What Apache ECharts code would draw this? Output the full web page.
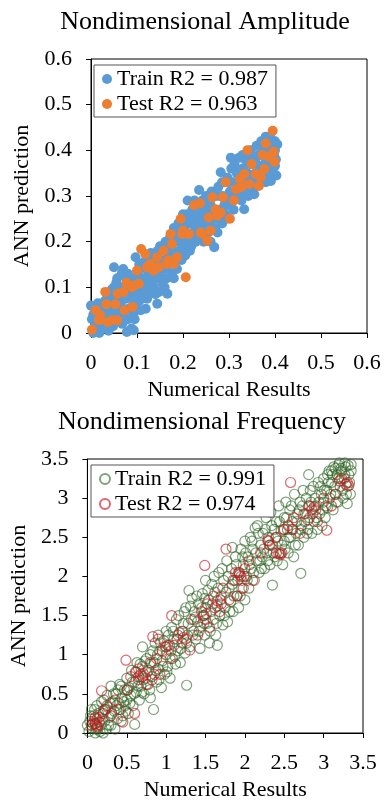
<!DOCTYPE html>
<html><head><meta charset="utf-8">
<script src="https://cdn.jsdelivr.net/npm/echarts@6/dist/echarts.min.js"></script>
<style>html,body{margin:0;padding:0;background:#fff}#c{width:384px;height:803px}</style>
</head><body><div id="c"></div>
<script>
const titles = ["Nondimensional Amplitude", "Nondimensional Frequency"];
const xName = "Numerical Results";
const yName = "ANN prediction";
const ampLegend = ["Train R2 = 0.987", "Test R2 = 0.963"];
const freqLegend = ["Train R2 = 0.991", "Test R2 = 0.974"];

const ampTrain = [
[0.0,0.06],[0.002,0.03],[0.005,0.0],[0.01,0.015],[0.012,0.045],[0.015,0.065],[0.018,0.0],[0.02,0.025],[0.022,0.055],[0.025,0.01],[0.028,0.04],[0.03,0.07],[0.032,0.02],[0.035,0.05],[0.038,0.005],[0.04,0.035],[0.042,0.08],[0.045,0.06],[0.048,0.015],[0.05,0.144],[0.05,0.1],[0.052,0.045],
[0.055,0.075],[0.057,0.12],[0.06,0.03],[0.062,0.09],[0.065,0.06],[0.067,0.13],[0.07,0.045],[0.072,0.1],[0.075,0.075],[0.078,0.002],[0.078,0.12],[0.08,0.03],[0.082,0.085],[0.085,0.055],[0.087,0.11],[0.088,0.01],[0.09,0.075],[0.092,0.04],[0.093,0.006],[0.095,0.1],[0.097,0.166],[0.098,0.065],
[0.1,0.09],[0.102,0.13],[0.105,0.07],[0.107,0.11],[0.11,0.15],[0.112,0.085],[0.115,0.12],[0.118,0.1],[0.119,0.053],[0.12,0.14],[0.122,0.075],[0.125,0.16],[0.127,0.11],[0.13,0.09],[0.132,0.13],[0.135,0.17],[0.137,0.1],[0.14,0.145],[0.142,0.12],[0.144,0.064],[0.145,0.18],[0.148,0.09],
[0.15,0.13],[0.152,0.16],[0.155,0.11],[0.157,0.19],[0.16,0.14],[0.162,0.2],[0.165,0.12],[0.166,0.086],[0.168,0.17],[0.17,0.15],[0.172,0.21],[0.175,0.13],[0.177,0.18],[0.18,0.23],[0.182,0.16],[0.185,0.2],[0.187,0.14],[0.19,0.24],[0.192,0.18],[0.195,0.21],[0.197,0.16],[0.2,0.26],
[0.2,0.19],[0.203,0.23],[0.205,0.17],[0.207,0.25],[0.21,0.29],[0.212,0.21],[0.215,0.24],[0.218,0.19],[0.22,0.27],[0.222,0.22],[0.225,0.25],[0.228,0.2],[0.23,0.28],[0.232,0.23],[0.235,0.313],[0.237,0.26],[0.24,0.21],[0.242,0.29],[0.245,0.24],[0.247,0.27],[0.25,0.22],[0.25,0.3],
[0.253,0.26],[0.255,0.29],[0.258,0.24],[0.26,0.2],[0.262,0.31],[0.265,0.27],[0.268,0.188],[0.27,0.23],[0.272,0.3],[0.275,0.25],[0.277,0.32],[0.28,0.27],[0.282,0.352],[0.285,0.24],[0.287,0.3],[0.29,0.33],[0.292,0.26],[0.295,0.29],[0.297,0.34],[0.3,0.28],
[0.302,0.31],[0.304,0.384],[0.305,0.36],[0.307,0.29],[0.31,0.33],[0.312,0.37],[0.315,0.3],[0.317,0.35],[0.32,0.32],[0.322,0.384],[0.325,0.34],[0.327,0.29],[0.33,0.36],[0.332,0.31],[0.333,0.271],[0.335,0.38],[0.337,0.33],[0.34,0.35],[0.342,0.3],[0.345,0.37],[0.347,0.4],[0.35,0.34],
[0.352,0.31],[0.355,0.304],[0.355,0.38],[0.357,0.35],[0.36,0.41],[0.362,0.33],[0.365,0.39],[0.367,0.36],[0.37,0.42],[0.372,0.34],[0.375,0.4],[0.377,0.37],[0.38,0.43],[0.382,0.35],[0.385,0.39],[0.387,0.41],[0.39,0.428],[0.39,0.36],[0.391,0.333],[0.393,0.38],[0.395,0.42],[0.397,0.35],[0.4,0.366],[0.4,0.4],[0.402,0.38],[0.405,0.413],[0.403,0.345],
[0.005,0.04],[0.008,0.055],[0.012,0.005],[0.02,0.06],[0.025,0.035],[0.03,0.045],[0.035,0.085],[0.04,0.015],[0.045,0.095],[0.05,0.03],[0.055,0.11],[0.06,0.065],[0.065,0.1],[0.068,0.02],[0.07,0.14],[0.075,0.05],[0.08,0.13],[0.085,0.09],[0.09,0.12],[0.095,0.03],[0.1,0.12],[0.105,0.15],[0.108,0.05],[0.11,0.1],[0.115,0.155],[0.12,0.09],[0.125,0.135],[0.13,0.175],[0.135,0.12],[0.14,0.085],[0.145,0.155],[0.15,0.19],[0.155,0.145],[0.16,0.1],[0.165,0.18],[0.17,0.2],[0.175,0.16],[0.18,0.12],[0.185,0.22],[0.19,0.16],[0.195,0.24],[0.2,0.22],[0.205,0.2],[0.21,0.26],[0.215,0.18],[0.22,0.24],[0.225,0.29],[0.23,0.21],[0.235,0.25],[0.24,0.28],[0.245,0.2],[0.25,0.26],[0.255,0.22],[0.26,0.28],[0.265,0.3],[0.27,0.26],[0.275,0.22],[0.28,0.3],[0.285,0.33],[0.29,0.28],[0.295,0.25],[0.3,0.33],[0.305,0.3],[0.31,0.27],[0.315,0.36],[0.32,0.35],[0.325,0.31],[0.33,0.39],[0.335,0.35],[0.34,0.32],[0.345,0.39],[0.35,0.37],[0.355,0.33],[0.36,0.37],[0.365,0.34],[0.37,0.39],[0.375,0.36],[0.38,0.33],[0.385,0.37],[0.39,0.4],[0.395,0.37],[0.4,0.42],[0.398,0.39],[0.392,0.345]
];
const ampTest = [
[0.002,0.007],[0.01,0.05],[0.017,0.028],[0.031,0.09],[0.033,0.063],[0.036,0.024],[0.053,0.063],[0.057,0.028],[0.058,0.086],[0.071,0.09],[0.073,0.05],[0.077,0.11],[0.09,0.057],[0.093,0.104],[0.1,0.137],[0.104,0.108],[0.109,0.184],[0.118,0.173],[0.129,0.151],[0.136,0.137],[0.144,0.166],[0.147,0.144],[0.158,0.18],[0.164,0.151],[0.173,0.217],[0.176,0.195],[0.18,0.151],[0.187,0.166],[0.195,0.25],[0.198,0.217],[0.2,0.224],[0.206,0.122],[0.213,0.217],[0.224,0.28],[0.237,0.284],[0.242,0.217],[0.253,0.202],[0.256,0.253],[0.26,0.224],[0.264,0.297],[0.271,0.271],[0.282,0.264],[0.287,0.297],[0.293,0.33],[0.302,0.25],[0.311,0.29],[0.315,0.315],[0.324,0.337],[0.333,0.348],[0.34,0.4],[0.344,0.326],[0.349,0.37],[0.358,0.348],[0.365,0.322],[0.373,0.39],[0.377,0.359],[0.38,0.415],[0.387,0.386],[0.395,0.443],[0.397,0.397],[0.399,0.375],[0.369,0.341],[0.326,0.319],[0.275,0.257],[0.238,0.22],[0.168,0.159],[0.122,0.144],[0.09,0.1],[0.046,0.028],[0.02,0.039]
];
const freqTrain = [
[0.02,0.02],[0.03,0.15],[0.05,0.3],[0.06,0.06],[0.08,0.22],[0.1,0.0],[0.1,0.12],[0.12,0.35],[0.13,0.05],[0.15,0.2],[0.17,0.1],[0.18,0.4],[0.2,0.0],[0.2,0.28],[0.22,0.15],[0.24,0.05],[0.25,0.48],[0.26,0.33],[0.28,0.2],[0.3,0.1],[0.3,0.6],[0.32,0.4],[0.34,0.28],[0.35,0.05],[0.36,0.5],[0.38,0.18],[0.4,0.38],[0.41,0.62],[0.42,0.3],[0.44,0.45],[0.45,0.22],[0.47,0.55],[0.48,0.35],[0.5,0.7],[0.5,0.42],
[0.52,0.25],[0.53,0.58],[0.55,0.48],[0.56,0.8],[0.58,0.35],[0.6,0.65],[0.6,0.11],[0.62,0.52],[0.63,0.9],[0.65,0.72],[0.66,0.42],[0.68,0.6],[0.7,0.85],[0.7,1.1],[0.72,0.5],[0.74,0.7],[0.75,0.95],[0.77,0.62],[0.78,0.8],[0.8,1.0],[0.8,0.45],[0.82,0.72],[0.84,0.3],[0.85,0.9],[0.86,1.15],[0.88,0.65],[0.9,0.82],[0.9,1.25],[0.92,1.05],[0.94,0.58],[0.95,0.92],[0.97,1.18],[0.98,0.75],[1.0,1.0],[1.0,1.3],
[1.02,0.85],[1.04,1.12],[1.05,0.7],[1.07,1.35],[1.08,0.95],[1.1,1.2],[1.12,0.88],[1.13,1.45],[1.15,1.05],[1.17,1.28],[1.18,0.9],[1.2,1.15],[1.22,1.4],[1.24,1.02],[1.25,1.6],[1.26,0.61],[1.27,1.25],[1.29,1.82],[1.3,1.1],[1.32,1.45],[1.33,1.72],[1.35,1.3],[1.36,1.55],[1.38,1.2],[1.4,1.42],[1.41,1.65],[1.43,1.08],[1.44,1.35],[1.46,1.78],[1.47,1.5],[1.49,1.25],[1.5,1.6],[1.5,1.95],
[1.52,1.4],[1.54,1.7],[1.55,1.15],[1.57,1.55],[1.58,1.9],[1.6,1.45],[1.62,1.8],[1.63,1.25],[1.65,1.12],[1.65,1.62],[1.67,2.05],[1.68,1.5],[1.7,1.75],[1.72,1.38],[1.73,1.95],[1.75,1.6],[1.77,2.2],[1.78,1.42],[1.8,1.85],[1.82,1.68],[1.83,2.1],[1.84,2.37],[1.85,1.55],[1.87,1.95],[1.88,2.25],[1.9,1.75],[1.92,1.6],[1.93,2.05],[1.95,2.35],[1.96,1.85],[1.98,2.15],[2.0,1.7],[2.0,2.45],
[2.02,2.0],[2.04,2.25],[2.05,1.85],[2.07,2.5],[2.08,2.1],[2.1,2.35],[2.12,1.95],[2.13,2.62],[2.15,2.2],[2.16,2.65],[2.18,2.05],[2.2,2.4],[2.22,2.25],[2.23,2.55],[2.25,2.1],[2.27,2.75],[2.28,2.3],[2.3,2.5],[2.32,2.15],[2.33,2.82],[2.35,1.89],[2.35,2.4],[2.37,2.6],[2.38,2.25],[2.4,2.7],[2.42,2.45],[2.43,2.9],[2.45,2.3],[2.46,2.58],[2.48,2.15],[2.5,2.75],[2.5,2.45],
[2.52,2.95],[2.54,2.6],[2.55,2.3],[2.57,2.85],[2.58,2.5],[2.6,2.7],[2.62,2.25],[2.63,3.05],[2.65,2.55],[2.67,2.8],[2.68,2.4],[2.7,2.95],[2.71,2.04],[2.72,2.65],[2.74,3.1],[2.75,2.5],[2.77,2.8],[2.78,3.0],[2.8,2.6],[2.81,3.3],[2.82,2.75],[2.84,2.95],[2.85,2.55],[2.87,3.15],[2.88,2.7],[2.9,2.9],[2.92,2.6],[2.93,3.2],[2.95,2.8],[2.97,3.05],[2.98,2.65],[3.0,2.95],[3.0,3.25],
[3.02,2.75],[3.04,3.1],[3.05,2.88],[3.07,3.35],[3.08,3.0],[3.1,3.2],[3.12,2.85],[3.13,3.4],[3.15,3.05],[3.17,3.3],[3.18,2.95],[3.2,3.45],[3.21,3.15],[3.23,3.35],[3.25,3.0],[3.26,3.25],[3.28,3.4],[3.3,2.93],[3.3,3.15],[3.32,3.3],[3.34,3.05],[3.35,3.43],
[0.0,0.1],[0.04,0.22],[0.07,0.12],[0.09,0.3],[0.11,0.05],[0.14,0.25],[0.16,0.02],[0.19,0.18],[0.21,0.42],[0.23,0.3],[0.27,0.1],[0.29,0.38],[0.31,0.25],[0.33,0.5],[0.37,0.35],[0.39,0.55],[0.43,0.15],[0.43,0.6],[0.46,0.4],[0.49,0.28],
[0.51,0.55],[0.54,0.38],[0.57,0.65],[0.59,0.5],[0.61,0.78],[0.64,0.6],[0.67,0.88],[0.69,0.52],[0.71,0.68],[0.73,0.92],[0.76,0.78],[0.79,0.55],[0.81,0.88],[0.83,1.05],[0.87,0.8],[0.89,1.0],[0.91,0.68],[0.93,1.15],[0.96,0.85],[0.99,1.1],
[1.01,0.78],[1.03,1.25],[1.06,1.05],[1.09,1.3],[1.11,0.98],[1.14,1.2],[1.16,1.5],[1.19,1.08],[1.21,1.3],[1.23,1.55],[1.26,1.15],[1.28,1.4],[1.31,1.62],[1.34,1.25],[1.37,1.48],[1.39,1.75],[1.42,1.3],[1.45,1.6],[1.48,1.4],[1.49,1.72],
[1.51,1.52],[1.53,1.82],[1.56,1.3],[1.59,1.65],[1.61,2.0],[1.64,1.4],[1.66,1.85],[1.69,1.7],[1.71,2.1],[1.74,1.5],[1.76,1.8],[1.79,2.0],[1.81,1.55],[1.84,1.9],[1.86,1.75],[1.89,2.15],[1.91,1.95],[1.94,1.75],[1.97,2.25],[1.99,2.0],
[2.01,2.3],[2.03,1.95],[2.06,2.15],[2.09,2.45],[2.11,2.05],[2.14,2.3],[2.17,2.55],[2.19,2.2],[2.21,2.1],[2.24,2.35],[2.26,2.6],[2.29,2.2],[2.31,2.4],[2.34,2.65],[2.36,2.3],[2.39,2.5],[2.41,2.2],[2.44,2.7],[2.47,2.4],[2.49,2.6],
[2.51,2.35],[2.53,2.75],[2.56,2.5],[2.59,2.9],[2.61,2.6],[2.64,2.4],[2.66,2.7],[2.69,2.85],[2.71,2.6],[2.73,2.9],[2.76,2.7],[2.79,2.55],[2.81,2.9],[2.83,3.1],[2.86,2.8],[2.89,3.0],[2.91,2.75],[2.94,2.95],[2.96,3.15],[2.99,2.85],
[3.01,3.1],[3.03,2.9],[3.06,3.2],[3.09,3.05],[3.11,3.3],[3.14,3.15],[3.16,2.95],[3.19,3.25],[3.22,3.38],[3.24,3.1],[3.27,3.3],[3.29,3.05],[3.31,3.42],[3.33,3.2],[3.35,3.35],[3.15,3.38],[3.19,3.42],[3.27,3.45],[3.1,3.35],[3.05,3.3]
];
const freqTest = [
[0.05,0.1],[0.08,0.15],[0.1,0.12],[0.12,0.18],[0.13,0.08],[0.15,0.14],[0.18,0.54],[0.2,0.25],[0.25,0.35],[0.3,0.22],[0.35,0.42],[0.4,0.3],[0.45,0.14],[0.49,0.93],[0.5,0.55],[0.55,0.72],[0.6,0.25],[0.62,0.78],[0.65,0.68],[0.68,0.75],[0.71,0.76],[0.75,0.62],[0.8,0.9],[0.83,1.23],[0.85,0.75],[0.88,0.95],[0.9,1.2],[0.92,0.75],[0.95,1.05],[1.0,1.1],[1.05,0.95],[1.07,1.5],[1.1,1.12],[1.15,1.25],[1.2,1.3],[1.25,1.2],[1.3,1.06],[1.35,1.45],[1.4,1.25],[1.45,1.55],[1.49,2.14],[1.5,1.45],[1.52,1.65],[1.55,1.35],[1.6,1.75],[1.65,1.69],[1.68,1.55],[1.72,1.85],[1.76,2.35],[1.8,1.7],[1.85,1.95],[1.88,2.05],[1.9,1.75],[1.93,2.02],[1.95,2.0],[1.98,1.85],[2.0,2.1],[2.05,2.2],[2.1,1.95],[2.2,2.3],[2.29,2.46],[2.32,2.4],[2.4,2.5],[2.43,2.29],[2.47,2.3],[2.5,2.6],[2.55,2.65],[2.58,3.2],[2.62,2.75],[2.7,2.55],[2.75,2.8],[2.8,2.72],[2.85,2.85],[2.88,2.89],[2.92,2.7],[3.0,3.0],[3.04,2.59],[3.1,2.9],[3.15,3.05],[3.23,3.25],[3.28,3.18],[3.32,3.16],
[0.1,0.2],[0.12,0.1],[0.22,0.3],[0.65,0.82],[0.7,0.72],[0.82,0.68],[1.02,1.12],[1.22,1.22],[1.48,1.5],[1.62,1.6],[1.7,1.65],[1.92,2.05],[1.96,1.95],[2.3,2.45],[2.4,2.3],[2.45,2.28],[2.6,2.6],[2.82,2.9],[2.9,2.85],[3.2,3.22],[3.3,3.2]
];

const FONT = "Liberation Serif";
const chart = echarts.init(document.getElementById('c'), null, {renderer: 'canvas'});

function xAxis(gi, max, interval) {
  return {
    type: 'value', gridIndex: gi, min: 0, max: max, interval: interval,
    name: xName, nameLocation: 'middle', nameGap: 46,
    nameTextStyle: {fontFamily: FONT, fontSize: 22, color: '#000'},
    axisLine: {show: true, onZero: false, lineStyle: {color: '#000', width: 1}},
    axisTick: {show: true, inside: false, length: 5, lineStyle: {color: '#000'}},
    axisLabel: {fontFamily: FONT, fontSize: 22, color: '#000', margin: 19},
    splitLine: {show: false}
  };
}
function yAxis(gi, max, interval, gap) {
  return {
    type: 'value', gridIndex: gi, min: 0, max: max, interval: interval,
    name: yName, nameLocation: 'middle', nameGap: gap, nameRotate: 90,
    nameTextStyle: {fontFamily: FONT, fontSize: 22, color: '#000'},
    axisLine: {show: true, onZero: false, lineStyle: {color: '#000', width: 1}},
    axisTick: {show: true, inside: false, length: 5, lineStyle: {color: '#000'}},
    axisLabel: {fontFamily: FONT, fontSize: 22, color: '#000', margin: 19},
    splitLine: {show: false}
  };
}

const option = {
  animation: false,
  backgroundColor: '#fff',
  title: [
    {text: titles[0], left: 200, top: 4, textAlign: 'center', textStyle: {fontFamily: FONT, fontSize: 26, fontWeight: 'normal', color: '#000'}},
    {text: titles[1], left: 197, top: 404, textAlign: 'center', textStyle: {fontFamily: FONT, fontSize: 26, fontWeight: 'normal', color: '#000'}}
  ],
  grid: [
    {left: 91, top: 59, width: 276, height: 274, show: true, borderColor: '#000', borderWidth: 1, backgroundColor: 'transparent'},
    {left: 87, top: 459, width: 276, height: 274, show: true, borderColor: '#000', borderWidth: 1, backgroundColor: 'transparent'}
  ],
  legend: [
    {data: ampLegend, left: 94, top: 65, orient: 'vertical', icon: 'circle', itemWidth: 10, itemHeight: 10, itemGap: 3,
     padding: [3, 8, 2, 8], borderColor: '#555', borderWidth: 1, backgroundColor: '#fff',
     textStyle: {fontFamily: FONT, fontSize: 22, color: '#000'}},
    {data: freqLegend, left: 91, top: 465, orient: 'vertical', icon: 'circle', itemWidth: 10, itemHeight: 10, itemGap: 3,
     padding: [3, 8, 2, 8], borderColor: '#555', borderWidth: 1, backgroundColor: '#fff',
     textStyle: {fontFamily: FONT, fontSize: 22, color: '#000'}}
  ],
  xAxis: [xAxis(0, 0.6, 0.1), xAxis(1, 3.5, 0.5)],
  yAxis: [yAxis(0, 0.6, 0.1, 55), yAxis(1, 3.5, 0.5, 51)],
  series: [
    {name: ampLegend[0], type: 'scatter', xAxisIndex: 0, yAxisIndex: 0, data: ampTrain, symbol: 'circle', symbolSize: 10,
     itemStyle: {color: '#5B9BD5', opacity: 1}},
    {name: ampLegend[1], type: 'scatter', xAxisIndex: 0, yAxisIndex: 0, data: ampTest, symbol: 'circle', symbolSize: 10,
     itemStyle: {color: '#ED7D31', opacity: 1}},
    {name: freqLegend[0], type: 'scatter', xAxisIndex: 1, yAxisIndex: 1, data: freqTrain, symbol: 'circle', symbolSize: 10,
     itemStyle: {color: 'rgba(0,0,0,0)', borderColor: 'rgba(45,100,35,0.75)', borderWidth: 1.2}},
    {name: freqLegend[1], type: 'scatter', xAxisIndex: 1, yAxisIndex: 1, data: freqTest, symbol: 'circle', symbolSize: 10,
     itemStyle: {color: 'rgba(0,0,0,0)', borderColor: 'rgba(200,20,30,0.8)', borderWidth: 1.2}}
  ]
};
chart.setOption(option);
</script>
</body></html>
